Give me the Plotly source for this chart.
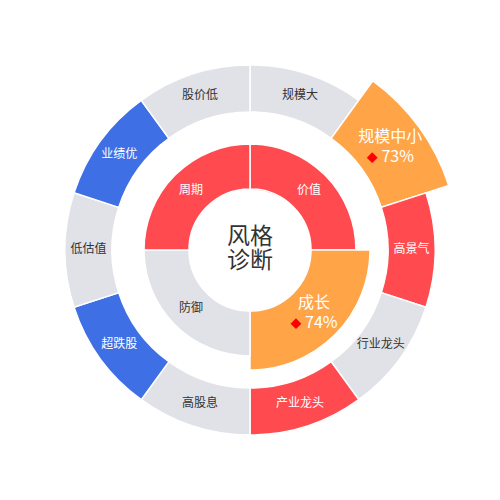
import plotly.graph_objects as go

# 风格诊断 - two ring chart
outer_labels = ["规模大", "规模中小", "高景气", "行业龙头", "产业龙头",
                "高股息", "超跌股", "低估值", "业绩优", "股价低"]
outer_state = ["none", "top", "hot", "none", "hot",
               "none", "cold", "none", "cold", "none"]
inner_labels = ["价值", "成长", "防御", "周期"]
inner_state = ["hot", "top", "none", "hot"]
top_pct = {"规模中小": "73%", "成长": "74%"}
title_lines = ["风格", "诊断"]

colors = {"none": "#e1e2e8", "top": "#ffa548", "hot": "#ff4b4f", "cold": "#3f6fe4"}
text_colors = {"none": "#333333", "top": "white", "hot": "white", "cold": "white"}

FONT = "Noto Sans CJK SC"


def ring(labels, state, base, thick, pop):
    step = 360 / len(labels)
    theta = [i * step + step / 2 for i in range(len(labels))]
    r = [thick + pop if s == "top" else thick for s in state]
    bar = go.Barpolar(
        theta=theta, r=r, base=base, width=[step] * len(labels),
        marker=dict(color=[colors[s] for s in state], line=dict(color="white", width=1.5)),
        hoverinfo="skip", showlegend=False,
    )
    txt, size, rr = [], [], []
    for lab, s, rv in zip(labels, state, r):
        if s == "top":
            txt.append(lab + "<br><span style='color:#ff0000;font-size:11px'>◆</span> " + top_pct[lab])
            size.append(16)
        else:
            txt.append(lab)
            size.append(12)
        rr.append(base + rv / 2)
    lab_trace = go.Scatterpolar(
        theta=theta, r=rr, text=txt, mode="text",
        textfont=dict(family=FONT, size=size, color=[text_colors[s] for s in state]),
        textposition="middle center", hoverinfo="skip", showlegend=False,
    )
    return bar, lab_trace


ob, ot = ring(outer_labels, outer_state, 138, 47, 24)
ib, it = ring(inner_labels, inner_state, 61, 45, 14)

center = go.Scatterpolar(
    r=[12, 12], theta=[0, 180], text=title_lines, mode="text",
    textfont=dict(family=FONT, size=23, color="#333333"),
    textposition="middle center", hoverinfo="skip", showlegend=False,
)

fig = go.Figure([ob, ib, ot, it, center])
fig.update_layout(
    width=500, height=500,
    margin=dict(l=0, r=16, t=0, b=16),
    paper_bgcolor="white",
    font=dict(family=FONT),
    polar=dict(
        domain=dict(x=[0, 1], y=[0, 1]),
        bgcolor="white",
        hole=0,
        radialaxis=dict(range=[0, 242], visible=False),
        angularaxis=dict(direction="clockwise", rotation=90, visible=False),
        bargap=0,
    ),
)
fig.write_html("out.html")
